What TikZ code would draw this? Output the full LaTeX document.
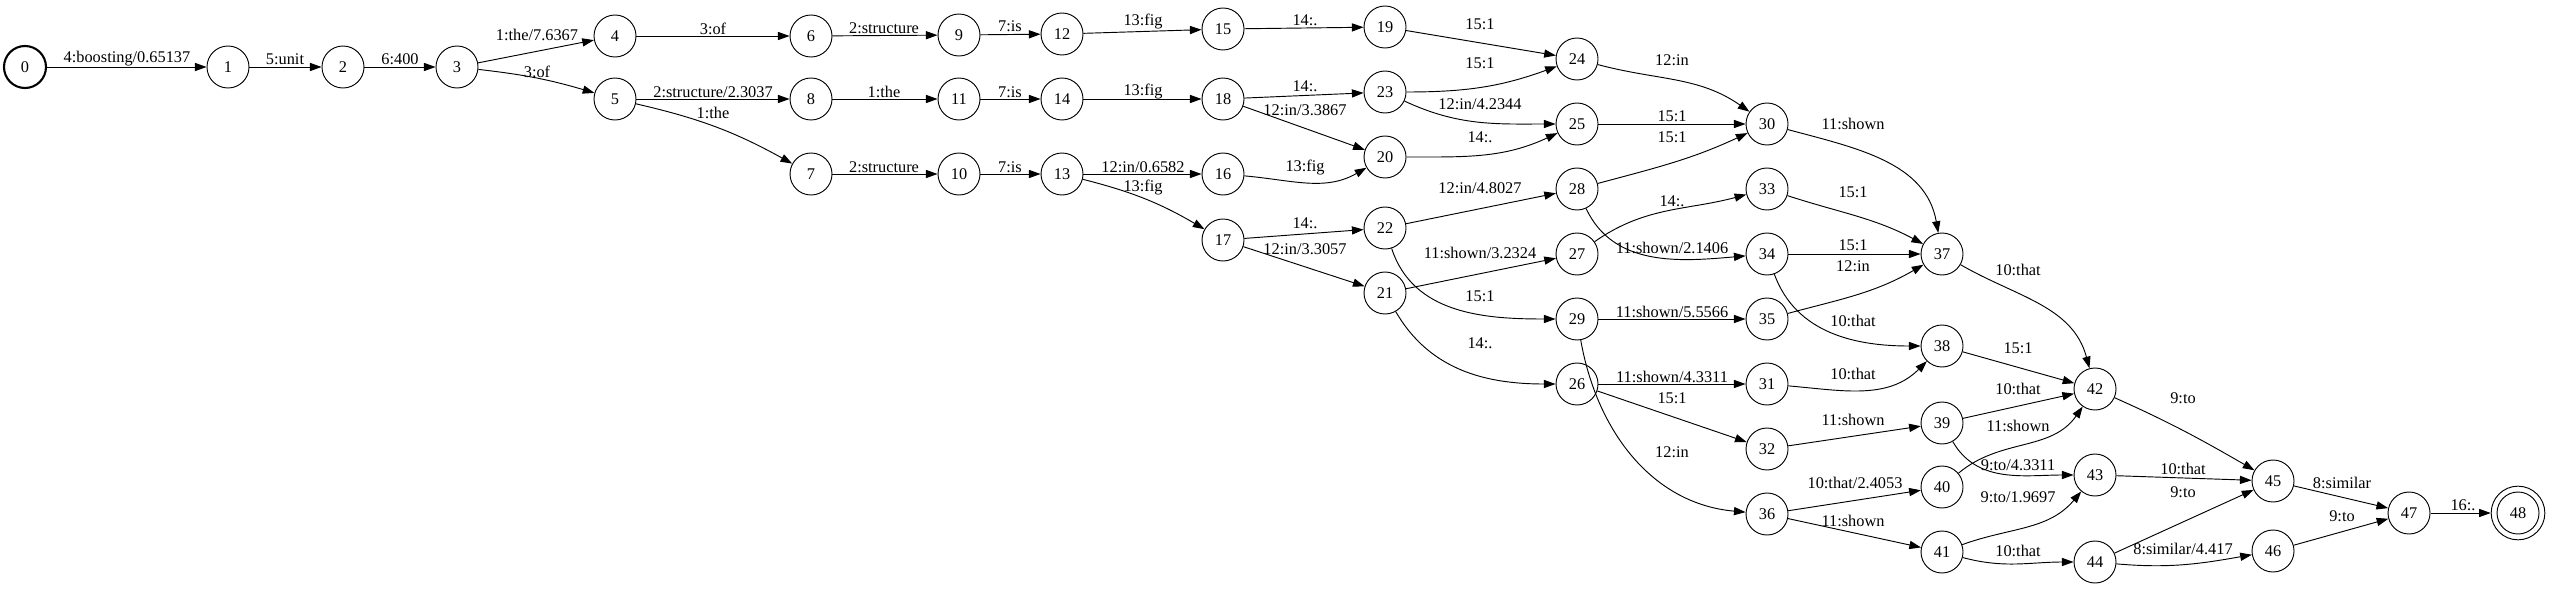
\documentclass[tikz,border=0pt]{standalone}
\usepackage{fontspec}
\setmainfont{Liberation Serif}
\usetikzlibrary{arrows.meta}
\tikzset{
  st/.style={circle,draw,line width=0.8pt,minimum size=36pt,inner sep=0pt,font=\fontsize{14}{16}\selectfont},
  lbl/.style={font=\fontsize{14}{16}\selectfont,inner sep=0pt},
  fstarrow/.style={draw,line width=0.8pt,-{Triangle[length=10pt,width=7pt]}}
}
\newcommand\fe[6]{\draw[fstarrow] (s#1) #3 (s#2); \node[lbl] (l#1x#2) at (#4,-#5) {#6};}
\begin{document}
\begin{tikzpicture}[x=0.857pt,y=0.857pt]
\useasboundingbox (0,0) rectangle (2550,-588);
% states
\node[st,line width=1.8pt] (s0) at (25,-67) {0};
\foreach \n/\x/\y in {1/228/67,2/343/67,3/457/67,4/615/36,5/615/99,6/811/36,8/811/99,7/811/174,
  9/959/35,11/959/99,10/959/174,12/1062/34,14/1062/99,13/1062/174,15/1223/29,18/1223/99,16/1223/174,17/1223/240,
  19/1385/27,23/1385/92,20/1385/157,22/1385/228,21/1385/293,24/1577/59,25/1577/124,28/1577/189,27/1577/254,
  29/1577/319,26/1577/384,30/1767/124,33/1767/189,34/1767/254,35/1767/319,31/1767/384,32/1767/449,36/1767/514,
  37/1942/254,38/1942/346,39/1942/423,40/1942/487,41/1942/552,42/2095/389,43/2095/475,44/2095/562,
  45/2273/481,46/2273/551,47/2409/513}
  {\node[st] (s\n) at (\x,-\y) {\n};}
\node[st,minimum size=46pt] (s48) at (2518,-513) {48};
\draw[line width=0.8pt] (s48.center) circle (18pt);
% transitions
\fe{0}{1}{--}{127}{59}{4:boosting/0.65137}
\fe{1}{2}{--}{285}{59}{5:unit}
\fe{2}{3}{--}{400}{59}{6:400}
\fe{3}{4}{--}{537}{35}{1:the/7.6367}
\fe{3}{5}{to[bend left=5]}{537}{72}{3:of}
\fe{4}{6}{--}{713}{29}{3:of}
\fe{5}{8}{--}{713}{92}{2:structure/2.3037}
\fe{5}{7}{to[bend left=8]}{713}{113}{1:the}
\fe{6}{9}{--}{884}{28}{2:structure}
\fe{8}{11}{--}{884}{92}{1:the}
\fe{7}{10}{--}{884}{167}{2:structure}
\fe{9}{12}{--}{1010}{26}{7:is}
\fe{11}{14}{--}{1010}{92}{7:is}
\fe{10}{13}{--}{1010}{167}{7:is}
\fe{12}{15}{--}{1143}{22}{13:fig}
\fe{14}{18}{--}{1143}{92}{13:fig}
\fe{13}{16}{--}{1143}{167}{12:in/0.6582}
\fe{13}{17}{to[bend left=8]}{1143}{188}{13:fig}
\fe{15}{19}{--}{1305}{20}{14:.}
\fe{18}{23}{--}{1305}{86}{14:.}
\fe{18}{20}{--}{1305}{110}{12:in/3.3867}
\fe{16}{20}{to[out=-5,in=210]}{1305}{168}{13:fig}
\fe{17}{22}{--}{1305}{223}{14:.}
\fe{17}{21}{--}{1305}{249}{12:in/3.3057}
\fe{19}{24}{--}{1480}{24}{15:1}
\fe{23}{24}{to[out=0,in=200]}{1480}{63}{15:1}
\fe{23}{25}{to[out=-25,in=180]}{1480}{104}{12:in/4.2344}
\fe{20}{25}{to[out=0,in=205]}{1480}{137}{14:.}
\fe{22}{28}{--}{1480}{188}{12:in/4.8027}
\fe{21}{27}{--}{1480}{253}{11:shown/3.2324}
\fe{22}{29}{to[out=-72,in=180]}{1480}{296}{15:1}
\fe{21}{26}{to[out=-60,in=180]}{1480}{343}{14:.}
\fe{24}{30}{to[out=-15,in=145]}{1672}{60}{12:in}
\fe{25}{30}{--}{1672}{116}{15:1}
\fe{28}{30}{to[out=15,in=205]}{1672}{137}{15:1}
\fe{27}{33}{to[out=35,in=195]}{1672}{201}{14:.}
\fe{28}{34}{to[out=-65,in=185]}{1672}{248}{11:shown/2.1406}
\fe{29}{35}{--}{1672}{312}{11:shown/5.5566}
\fe{26}{31}{--}{1672}{377}{11:shown/4.3311}
\fe{26}{32}{--}{1672}{398}{15:1}
\fe{29}{36}{to[out=-80,in=175]}{1672}{452}{12:in}
\fe{30}{37}{to[out=-15,in=100]}{1853}{124}{11:shown}
\fe{33}{37}{to[out=-18,in=152]}{1853}{192}{15:1}
\fe{34}{37}{--}{1853}{245}{15:1}
\fe{35}{37}{to[out=15,in=210]}{1853}{266}{12:in}
\fe{34}{38}{to[out=-70,in=180]}{1853}{321}{10:that}
\fe{31}{38}{to[out=-5,in=225]}{1853}{374}{10:that}
\fe{32}{39}{--}{1853}{420}{11:shown}
\fe{36}{40}{--}{1855}{483}{10:that/2.4053}
\fe{36}{41}{--}{1853}{521}{11:shown}
\fe{37}{42}{to[out=-30,in=105]}{2018}{270}{10:that}
\fe{38}{42}{--}{2018}{348}{15:1}
\fe{39}{42}{--}{2018}{389}{10:that}
\fe{40}{42}{to[out=40,in=235]}{2018}{426}{11:shown}
\fe{39}{43}{to[out=-60,in=180]}{2018}{465}{9:to/4.3311}
\fe{41}{43}{to[out=20,in=230]}{2018}{497}{9:to/1.9697}
\fe{41}{44}{to[out=-15,in=180]}{2018}{551}{10:that}
\fe{42}{45}{to[out=-24,in=150]}{2183}{398}{9:to}
\fe{43}{45}{--}{2183}{469}{10:that}
\fe{44}{45}{--}{2183}{492}{9:to}
\fe{44}{46}{to[out=-5,in=190]}{2183}{549}{8:similar/4.417}
\fe{45}{47}{--}{2342}{483}{8:similar}
\fe{46}{47}{--}{2342}{516}{9:to}
\fe{47}{48}{--}{2463}{505}{16:.}
\end{tikzpicture}
\end{document}
